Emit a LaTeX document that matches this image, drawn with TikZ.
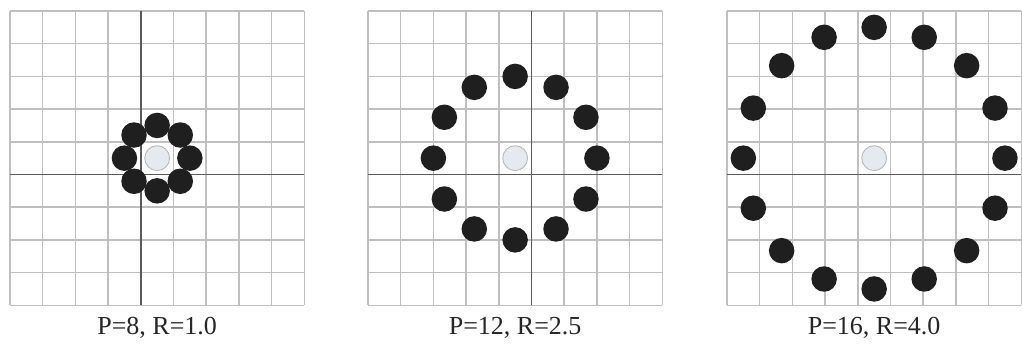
\documentclass[tikz,border=0pt]{standalone}
\usepackage{fontspec}
\setmainfont{Liberation Serif}
\usepackage{xcolor}
\usetikzlibrary{calc}

\definecolor{centrefill}{HTML}{E4EAF0}

\begin{document}
\begin{tikzpicture}[
    x=1pt, y=1pt,  % 1 unit = 1 pixel of the reference
    gridline/.style={gray!50, line width=1.5pt},
    axisline/.style={gray!70!black, line width=1.5pt},
    pixel/.style={fill=black!88},
    centre/.style={fill=centrefill, draw=gray!55, line width=0.9pt},
    caption/.style={font=\fontsize{26}{26}\selectfont, text=black!85}
]
    \useasboundingbox (0,0) rectangle (1022,347);

    % --- three neighbourhoods: left edge / P / R / vertical axis / name ---
    \foreach \ox/\p/\r/\vx/\lab/\nm in {10/8/1.0/4/{P=8, R=1.0}/capA,
                                       368/12/2.5/5/{P=12, R=2.5}/capB,
                                       727/16/4.0/-1/{P=16, R=4.0}/capC} {
        \begin{scope}[shift={(\ox,41.7)}, x=32.7pt, y=32.7pt]
            % --- grid ---
            \foreach \i in {0,...,9} {
                \draw[gridline] (\i,0) -- (\i,9);
                \draw[gridline] (0,\i) -- (9,\i);
            }
            \draw[axisline] (0,4) -- (9,4);
            \ifnum\vx>0
                \draw[axisline] (\vx,0) -- (\vx,9);
            \fi

            % --- sampling points on the circle ---
            \foreach \k in {1,...,\p} {
                \fill[pixel] ({4.5+\r*cos(360*\k/\p)}, {4.5+\r*sin(360*\k/\p)}) circle (0.39);
            }

            % --- centre pixel ---
            \filldraw[centre] (4.5,4.5) circle (0.38);

            % --- caption ---
            \node[caption] (\nm) at (4.5,-0.69) {\lab};
        \end{scope}
    }
\end{tikzpicture}
\end{document}
